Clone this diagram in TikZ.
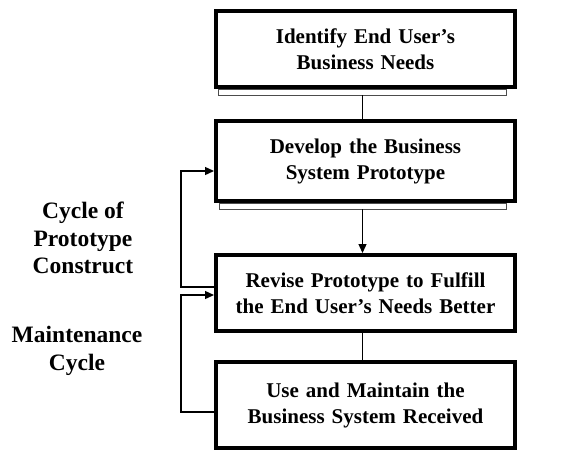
\documentclass[tikz,border=0pt]{standalone}
\usepackage{fontspec}
\setmainfont{Liberation Serif}
\usetikzlibrary{positioning,arrows.meta}
\begin{document}
\begin{tikzpicture}[x=1pt,y=-1pt,>={Triangle[length=9pt,width=8pt]},
		box/.style={draw, line width=4pt, minimum width=299pt, text width=290pt, align=center,
			font=\bfseries\fontsize{21}{26}\selectfont},
		cycle/.style={align=center, font=\bfseries\fontsize{23.5}{27.5}\selectfont},
		bar/.style={draw=black!70, line width=1pt},
		link/.style={line width=1.3pt}]
			\useasboundingbox (0,0) rectangle (569,464);
			\node (n1) [box, minimum height=76pt] at (365.5,49) {Identify End User’s\\Business Needs};
			\node (n2) [box, minimum height=80pt, below=30pt of n1] {Develop the Business\\System Prototype};
			\node (n3) [box, minimum height=76pt, below=50pt of n2] {Revise Prototype to Fulfill\\the End User’s Needs Better};
			\node (n4) [box, minimum height=86pt, below=27pt of n3] {Use and Maintain the\\Business System Received};
			\node (c1) [cycle] at (83,238) {Cycle of\\Prototype\\Construct};
			\node (c2) [cycle] at (77,351) {Maintenance\\Cycle};
			\draw[bar] ([xshift=4pt]n1.south west) rectangle ([xshift=-11pt,yshift=-6pt]n1.south east);
			\draw[bar] ([xshift=5pt]n2.south west) rectangle ([xshift=-11pt,yshift=-6pt]n2.south east);
			\draw[link] ([xshift=-3pt,yshift=-6pt]n1.south) -- ([xshift=-3pt]n1.south |- n2.north);
			\draw[link,->] ([xshift=-3pt,yshift=-6pt]n2.south) -- ([xshift=-3pt]n2.south |- n3.north);
			\draw[link] ([xshift=-3pt]n3.south) -- ([xshift=-3pt]n3.south |- n4.north);
			\draw[link,->] ([yshift=6pt]n3.west) -- ++(-33,0) |- ([yshift=-10pt]n2.west);
			\draw[link,->] ([yshift=-7pt]n4.west) -- ++(-33,0) |- ([yshift=-2pt]n3.west);
		\end{tikzpicture}
\end{document}
